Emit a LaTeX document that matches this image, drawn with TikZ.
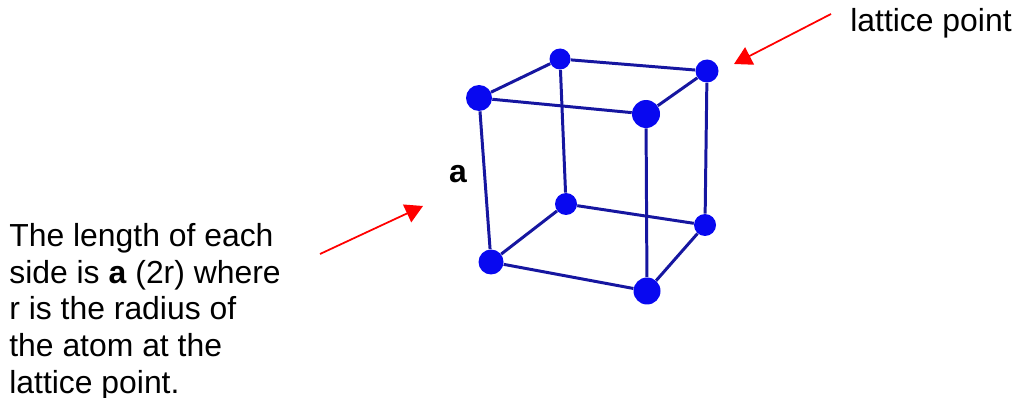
\documentclass[tikz,border=0pt]{standalone}
\usepackage{fontspec}
\setmainfont{Liberation Sans}
\definecolor{LATblue}{HTML}{0808F0}
\definecolor{LATedge}{HTML}{1616A0}
\definecolor{LATred}{HTML}{FF0000}
\usetikzlibrary{arrows.meta}
\tikzset{
   atom/.style={circle, fill=LATblue, inner sep=0pt, minimum size=#1},
   cubeedge/.style={LATedge, line width=1.7pt},
   pointer/.style={-{Triangle[length=10pt, width=11pt]}, LATred, line width=1pt},
   label/.style={inner sep=0pt, font=\fontsize{18.15}{20.9}\selectfont}
}

\begin{document}
\begin{tikzpicture}[x=0.02cm, y=-0.02cm]
      \useasboundingbox (0,0) rectangle (1016,398);
      % Atoms, top face
      \node[atom=0.42cm] (topbackleft) at (560,59) {};
      \node[atom=0.46cm] (topbackright) at (707,71) {};
      \node[atom=0.52cm] (topfrontleft) at (479,98) {};
      \node[atom=0.56cm] (topfrontright) at (646,114) {};
      % Atoms, bottom face
      \node[atom=0.44cm] (botbackleft) at (566,204) {};
      \node[atom=0.44cm] (botbackright) at (705,225) {};
      \node[atom=0.50cm] (botfrontleft) at (491,262) {};
      \node[atom=0.54cm] (botfrontright) at (647,291) {};
      % Top edges
      \draw[cubeedge] (topbackleft) -- (topbackright);
      \draw[cubeedge] (topbackright) -- (topfrontright);
      \draw[cubeedge] (topfrontright) -- (topfrontleft);
      \draw[cubeedge] (topfrontleft) -- (topbackleft);
      % Bottom edges
      \draw[cubeedge] (botbackleft) -- (botbackright);
      \draw[cubeedge] (botbackright) -- (botfrontright);
      \draw[cubeedge] (botfrontright) -- (botfrontleft);
      \draw[cubeedge] (botfrontleft) -- (botbackleft);
      % Vertical edges
      \draw[cubeedge] (topbackleft) -- (botbackleft);
      \draw[cubeedge] (topbackright) -- (botbackright);
      \draw[cubeedge] (topfrontleft) -- (botfrontleft);
      \draw[cubeedge] (topfrontright) -- (botfrontright);
      % Labels
      \node[label, anchor=base west] (latticelabel) at (850,32) {lattice point};
      \node[label, anchor=base] (sidelabel) at (458,183) {\textbf{a}};
      \node[label, anchor=north west, align=left] (sidetext) at (9,223)
         {The length of each\\side is \textbf{a} (2r) where\\r is the radius of\\the atom at the\\lattice point.};
      % Red pointers
      \coordinate (latticestart) at (831,14);
      \coordinate (latticetip) at (734,64);
      \coordinate (sidestart) at (320,254);
      \coordinate (sidetip) at (423,206);
      \draw[pointer] (latticestart) -- (latticetip);
      \draw[pointer] (sidestart) -- (sidetip);
\end{tikzpicture}
\end{document}
